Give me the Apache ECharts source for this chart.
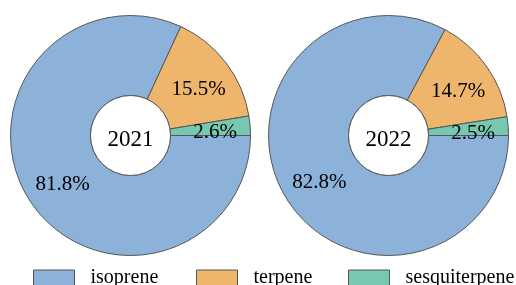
<!DOCTYPE html>
<html>
<head>
<meta charset="utf-8">
<script src="https://cdn.jsdelivr.net/npm/echarts@6/dist/echarts.min.js"></script>
<style>
  html, body { margin: 0; padding: 0; background: #fff; }
  #chart { width: 516px; height: 285px; }
</style>
</head>
<body>
<div id="chart"></div>
<script>
const categories = ["isoprene", "terpene", "sesquiterpene"];
const years = ["2021", "2022"];
const shares2021 = [81.8, 15.5, 2.6];
const shares2022 = [82.8, 14.7, 2.5];
const colors = ["#8db2da", "#eeb56c", "#77c8b0"];
const legendLeft = [33, 196, 348];

const chart = echarts.init(document.getElementById("chart"));
const font = "'Liberation Serif', 'Times New Roman', serif";

const makePie = (values, center) => ({
  type: "pie",
  center: center,
  radius: [40, 120],
  startAngle: 0,
  clockwise: true,
  avoidLabelOverlap: false,
  silent: true,
  itemStyle: { borderColor: "#555", borderWidth: 1 },
  label: {
    show: true,
    position: "inside",
    formatter: (p) => p.value.toFixed(1) + "%",
    color: "#000",
    fontFamily: font,
    fontSize: 21,
    offset: [2, 4],
  },
  labelLine: { show: false },
  data: values.map((v, i) => ({
    name: categories[i],
    value: v,
    itemStyle: { color: colors[i] },
  })),
});

const makeHole = (year, center) => ({
  type: "pie",
  center: center,
  radius: [0, 40],
  silent: true,
  itemStyle: { color: "#fff", borderColor: "#555", borderWidth: 1 },
  label: {
    show: true,
    position: "center",
    formatter: year,
    color: "#000",
    fontFamily: font,
    fontSize: 23,
    offset: [0, 4],
  },
  labelLine: { show: false },
  data: [{ name: year, value: 1 }],
});

// one legend per item so each sits where the reference has it
const legends = categories.map((name, i) => ({
  data: [name],
  top: 268,
  left: legendLeft[i],
  padding: 0,
  itemWidth: 41,
  itemHeight: 16,
  icon: "rect",
  selectedMode: false,
  itemStyle: { borderColor: "#555", borderWidth: 1 },
  textStyle: {
    fontFamily: font,
    fontSize: 20,
    color: "#000",
    padding: [0, 0, 0, 11],
  },
}));

const option = {
  animation: false,
  textStyle: { fontFamily: font },
  legend: legends,
  series: [
    makePie(shares2021, [130.5, 135.5]),
    makeHole(years[0], [130.5, 135.5]),
    makePie(shares2022, [388.5, 135.5]),
    makeHole(years[1], [388.5, 135.5]),
  ],
};

chart.setOption(option);
</script>
</body>
</html>
